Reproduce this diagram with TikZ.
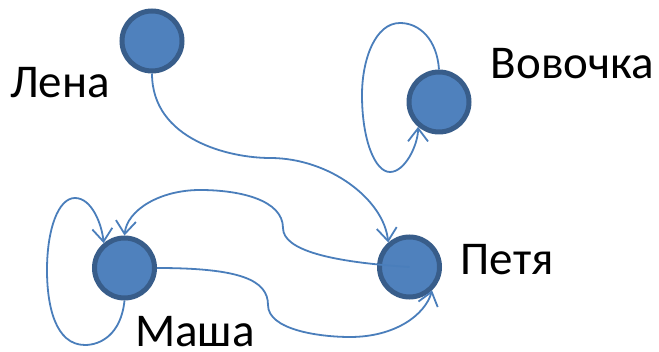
\documentclass[tikz,border=0pt]{standalone}
\usepackage{fontspec}
\setmainfont{Carlito}
\usetikzlibrary{arrows.meta}
\definecolor{nodefill}{HTML}{4F81BD}
\definecolor{nodeline}{HTML}{385D8A}
\definecolor{edgecol}{HTML}{4A7EBB}
\tikzset{
  person/.style={circle,fill=nodefill,draw=nodeline,line width=5pt,minimum size=60pt,inner sep=0pt},
  lbl/.style={anchor=base west,inner sep=0pt,font=\fontsize{47}{52}\selectfont},
  edge/.style={draw=edgecol,line width=1.8pt,-{Straight Barb[length=13pt,width=20pt,line width=1.8pt]}},
  plain/.style={draw=edgecol,line width=1.8pt}
}
\begin{document}
\begin{tikzpicture}[x=1pt,y=-1pt]
\useasboundingbox (0,0) rectangle (659,352);
\node[person] (lena) at (152,41) {};
\node[person] (vova) at (439,102) {};
\node[person] (masha) at (124.5,268) {};
\node[person] (petya) at (409.5,267) {};
\node[lbl] (tlena) at (10,97.3) {Лена};
\node[lbl] (tvova) at (490.5,78.3) {Вовочка};
\node[lbl] (tpetya) at (460.5,274.3) {Петя};
\node[lbl] (tmasha) at (135,346.5) {Маша};
% Lena -> Petya
\draw[edge] (lena.south) .. controls (152,140) and (230,158) .. (270,158)
  .. controls (330,158) and (384,200) .. (petya.131);
% Petya -> Masha (upper)
\draw[edge] (petya.center) .. controls (330,262) and (283,250) .. (283,228)
  .. controls (283,200) and (240,190) .. (200,190)
  .. controls (160,190) and (127,210) .. (masha.90);
% Masha -> Petya (lower)
\draw[edge] (masha.east) .. controls (240,268) and (268,280) .. (268,305)
  .. controls (268,330) and (320,337) .. (350,337)
  .. controls (395,337) and (425,315) .. (petya.-46);
% Masha self-loop
\draw[edge] (masha.south) .. controls (121,335) and (100,345) .. (85,345)
  .. controls (55,345) and (47,305) .. (47,270)
  .. controls (47,230) and (58,198) .. (75,198)
  .. controls (92,198) and (102,225) .. (masha.130);
% Vova self-loop
\draw[edge] (vova.north) .. controls (437,40) and (420,23) .. (400,23)
  .. controls (375,23) and (362,60) .. (362,95)
  .. controls (362,140) and (375,172) .. (390,172)
  .. controls (405,172) and (418,145) .. (vova.230);
\end{tikzpicture}
\end{document}
